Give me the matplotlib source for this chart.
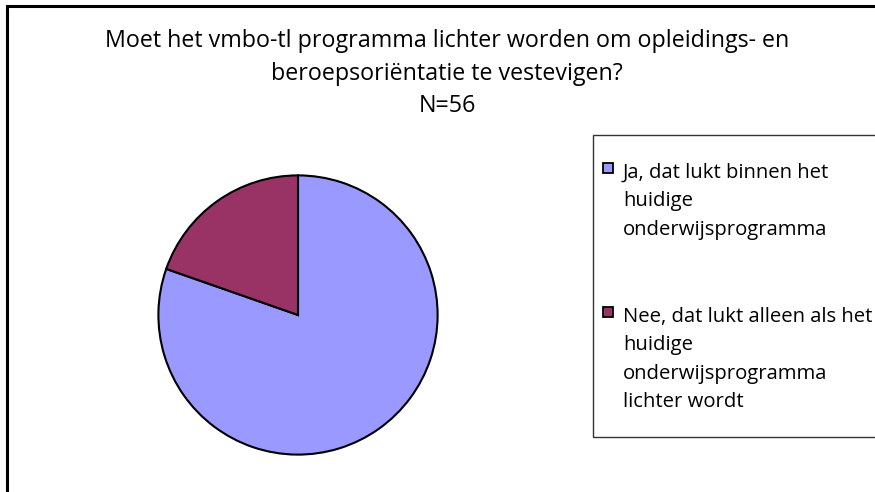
import matplotlib

matplotlib.use("Agg")
import matplotlib.pyplot as plt  # noqa: E402
from matplotlib.patches import Rectangle  # noqa: E402

# data (N=56)
categories = ["Ja", "Nee"]
counts = [45, 11]
colors = ["#9999FF", "#993366"]
legend_lines = [
    ["Ja, dat lukt binnen het", "huidige", "onderwijsprogramma"],
    ["Nee, dat lukt alleen als het", "huidige", "onderwijsprogramma",
     "lichter wordt"],
]
title_lines = [
    "Moet het vmbo-tl programma lichter worden om opleidings- en",
    "beroepsoriëntatie te vestevigen?",
    "N=56",
]

W, H = 875, 492
plt.rcParams["font.family"] = ["Open Sans", "DejaVu Sans"]

fig = plt.figure(figsize=(W / 100, H / 100), dpi=100)
renderer = fig.canvas.get_renderer()


def fx(px):
    return px / W


def fy(py):
    return 1 - py / H


def fit_size(txt, target_px, base=12.0):
    t = fig.text(0, 0, txt, fontsize=base)
    w = t.get_window_extent(renderer).width
    t.remove()
    return base * target_px / w


# chart frame (runs off the right and bottom edges)
fig.patches.append(Rectangle((fx(7), fy(560)), fx(900), fy(6) - fy(560),
                             transform=fig.transFigure, fill=False,
                             edgecolor="black", lw=2.2))

# title
title_fs = fit_size(title_lines[0], 681)
for txt, y in zip(title_lines, [47, 80, 112]):
    fig.text(fx(447), fy(y), txt, ha="center", va="baseline",
             fontsize=title_fs)

# pie
cx, cy, r = 298, 315, 141
ax = fig.add_axes([fx(cx - r), fy(cy + r), fx(2 * r), fy(cy - r) - fy(cy + r)])
ax.pie(counts, colors=colors, startangle=90, counterclock=False,
       wedgeprops=dict(edgecolor="black", linewidth=1.5))
ax.set_xlim(-1.01, 1.01)
ax.set_ylim(-1.01, 1.01)
ax.set_aspect("auto")

# legend box
fig.patches.append(Rectangle((fx(593), fy(437)), fx(400), fy(135) - fy(437),
                             transform=fig.transFigure, fill=False,
                             edgecolor="#333333", lw=1.0))
leg_fs = fit_size("onderwijsprogramma", 203)
for lines, col, y0 in zip(legend_lines, colors, [178, 322]):
    fig.patches.append(Rectangle((fx(603), fy(y0 - 5)), fx(10), fy(0) - fy(10),
                                 transform=fig.transFigure, facecolor=col,
                                 edgecolor="black", lw=1.3))
    for i, line in enumerate(lines):
        fig.text(fx(623), fy(y0 + 28.3 * i), line, ha="left", va="baseline",
                 fontsize=leg_fs)

fig.savefig("out.png", dpi=100)
